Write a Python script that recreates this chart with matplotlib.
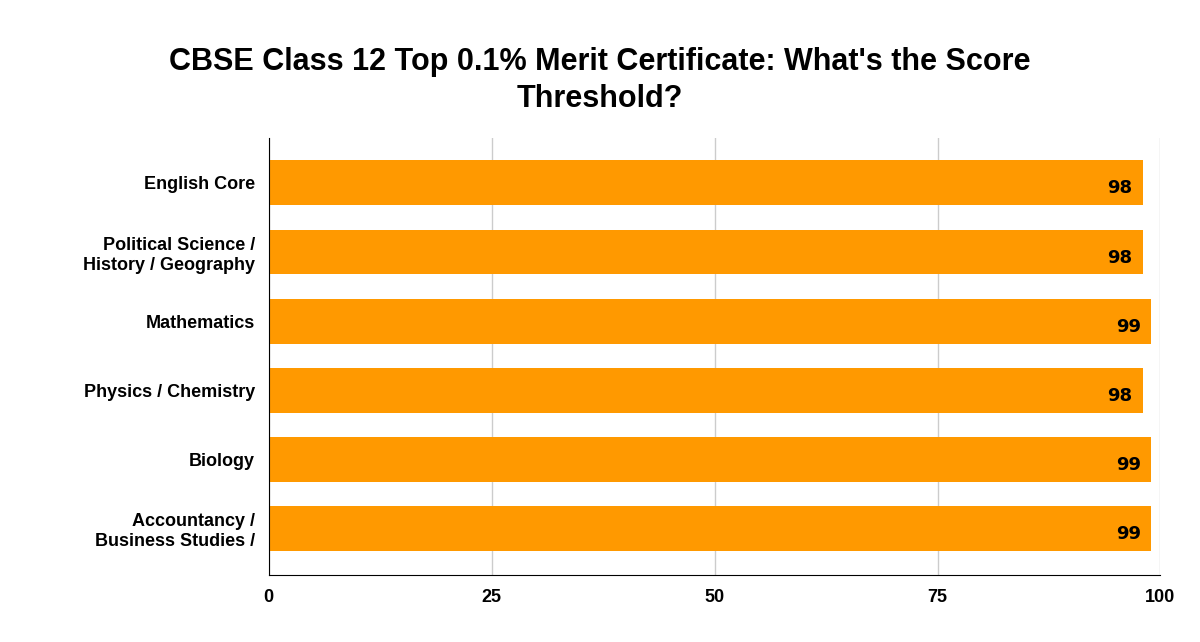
import matplotlib.pyplot as plt

categories = ["English Core", "Political Science /\nHistory / Geography", "Mathematics",
              "Physics / Chemistry", "Biology", "Accountancy /\nBusiness Studies /"]
scores = [98, 98, 99, 98, 99, 99]
xticks = [0, 25, 50, 75, 100]

fig = plt.figure(figsize=(12, 6.42), dpi=100)
ax = fig.add_axes([0.224, 0.104, 0.743, 0.681])

ypos = list(range(len(categories)))
ax.barh(ypos, scores, height=0.65, color="#FF9900", zorder=2)
for y, v in zip(ypos, scores):
    ax.text(v - 1.2, y + 0.08, str(v), ha="right", va="center",
            fontsize=13, fontweight="bold", color="black", zorder=3)

ax.set_ylim(5.68, -0.65)
ax.set_xlim(0, 100)
ax.set_yticks(ypos)
ax.set_yticklabels(categories, fontsize=13, fontweight="bold", family="Liberation Sans")
ax.set_xticks(xticks)
ax.set_xticklabels([str(t) for t in xticks], fontsize=13, fontweight="bold", family="Liberation Sans")
ax.tick_params(length=0, pad=10)
ax.grid(axis="x", color="#cccccc", linewidth=1, zorder=0)
for s in ["top", "right"]:
    ax.spines[s].set_visible(False)
ax.spines["left"].set_color("black")
ax.spines["bottom"].set_color("black")

fig.text(0.5, 0.875, "CBSE Class 12 Top 0.1% Merit Certificate: What's the Score\nThreshold?",
         ha="center", va="center", fontsize=22, fontweight="bold", family="Liberation Sans",
         linespacing=1.3)

fig.savefig("out.png", dpi=100)
